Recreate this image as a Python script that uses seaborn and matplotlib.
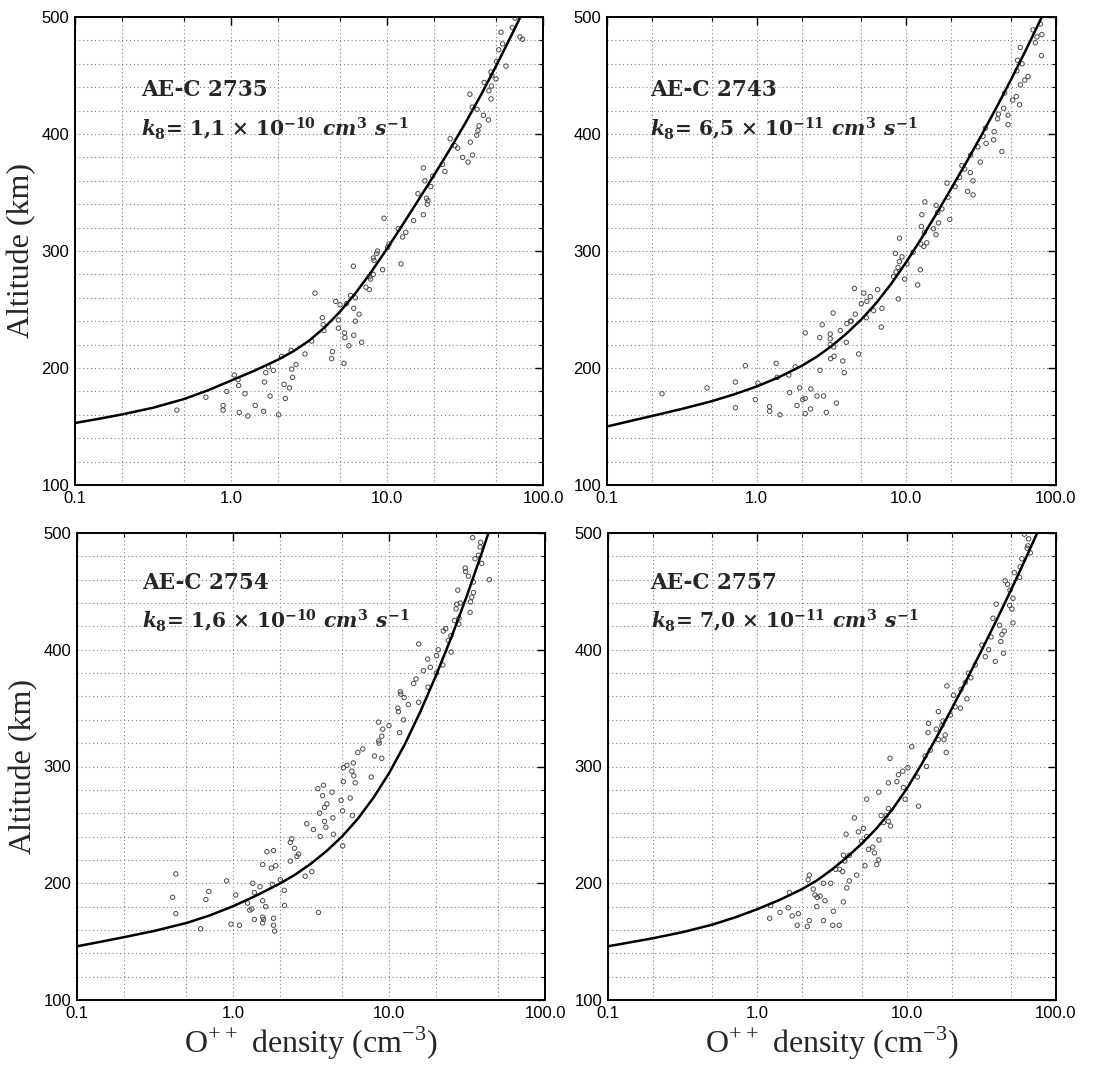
import numpy as np
import pandas as pd
import matplotlib
matplotlib.use("Agg")
import matplotlib.pyplot as plt
import seaborn as sns
from matplotlib.ticker import MultipleLocator, LogLocator, FixedLocator, NullFormatter

# ---------------- data ----------------
orbits = ["2735", "2743", "2754", "2757"]
k8_labels = ["1,1 × 10$^{-10}$", "6,5 × 10$^{-11}$", "1,6 × 10$^{-10}$", "7,0 × 10$^{-11}$"]

dens_2735 = [0.45, 0.69, 0.89, 0.89, 0.94, 1.05, 1.11, 1.12, 1.13, 1.23, 1.28, 1.43, 1.62, 1.64, 1.67, 1.74, 1.78,
             1.87, 2.02, 2.11, 2.19, 2.23, 2.37, 2.43, 2.45, 2.48, 2.61, 2.98, 3.29, 3.45, 3.85, 3.9, 3.94, 4.42,
             4.47, 4.69, 4.88, 4.88, 5.0, 5.3, 5.34, 5.37, 5.5, 5.7, 5.85, 6.09, 6.12, 6.12, 6.27, 6.27, 6.62, 6.88,
             7.33, 7.7, 7.74, 7.85, 8.17, 8.17, 8.26, 8.59, 8.7, 9.38, 9.57, 10.1, 10.3, 11.8, 12.3, 12.6, 13.2,
             14.8, 15.8, 17.1, 17.1, 17.5, 17.9, 18.1, 18.3, 19.1, 19.6, 22.7, 23.5, 25.4, 27.3, 28.4, 30.5, 33.1,
             34.0, 34.2, 35.2, 35.3, 37.6, 37.8, 38.3, 38.9, 41.5, 42.0, 44.7, 45.0, 46.4, 46.8, 46.4, 47.0, 50.0,
             50.3, 52.0, 53.8, 55.1, 57.9, 63.5, 66.1, 71.2, 74.0]
alt_2735 = [164, 175, 164, 168, 180, 194, 190, 185, 162, 178, 159, 168, 163, 188, 196, 201, 176,
            198, 160, 210, 186, 174, 183, 215, 199, 192, 203, 212, 223, 264, 243, 237, 232, 208,
            214, 257, 234, 241, 254, 204, 230, 226, 255, 219, 262, 287, 251, 228, 240, 260, 246, 222,
            269, 267, 278, 276, 294, 280, 292, 298, 300, 284, 328, 303, 306, 319, 289, 312, 316,
            326, 349, 331, 371, 360, 345, 340, 343, 355, 364, 374, 368, 396, 390, 388, 380, 376,
            434, 393, 423, 382, 399, 421, 403, 407, 416, 444, 412, 437, 430, 441, 453, 450, 447,
            462, 472, 487, 477, 458, 491, 499, 483, 481]

dens_2743 = [0.233, 0.466, 0.72, 0.72, 0.84, 0.98, 1.02, 1.22, 1.22, 1.35, 1.37, 1.43, 1.64, 1.66, 1.81, 1.86, 1.94,
             2.03, 2.11, 2.11, 2.11, 2.29, 2.30, 2.53, 2.64, 2.65, 2.74, 2.8, 2.92, 3.1, 3.1, 3.1, 3.12, 3.24,
             3.27, 3.29, 3.41, 3.62, 3.76, 3.85, 3.97, 4.01, 4.23, 4.28, 4.5, 4.56, 4.8, 5.0, 5.19, 5.4, 5.45,
             5.74, 6.05, 6.43, 6.8, 6.87, 8.22, 8.45, 8.52, 8.8, 8.85, 9.0, 9.0, 9.35, 9.75, 10.1, 11.1, 11.9,
             12.4, 12.5, 12.6, 12.7, 13.1, 13.2, 13.3, 13.7, 15.2, 15.8, 15.8, 16.2, 16.4, 17.3, 18.7, 19.0,
             19.5, 21.2, 22.7, 23.5, 24.5, 25.7, 26.8, 26.9, 27.9, 27.9, 30.1, 31.2, 32.5, 33.7, 34.1, 38.3,
             38.6, 40.7, 41.2, 43.5, 44.7, 45.4, 47.8, 47.8, 51.3, 54.3, 54.8, 55.3, 57.1, 57.8, 57.8, 59.3,
             61.8, 65.0, 70.2, 72.8, 74.6, 78.6, 80.5, 80.0]
alt_2743 = [178, 183, 188, 166, 202, 173, 187, 167, 163, 204, 192, 160, 194, 179, 201, 168, 183,
            173, 174, 230, 161, 165, 182, 176, 226, 198, 237, 176, 162, 229, 225, 220, 208, 247,
            218, 210, 170, 232, 206, 196, 222, 238, 240, 240, 268, 246, 212, 255, 264, 243, 257,
            261, 249, 267, 235, 251, 278, 298, 282, 286, 259, 311, 291, 295, 276, 289, 299, 271,
            284, 306, 321, 331, 304, 316, 342, 307, 319, 314, 339, 333, 324, 336, 358, 346,
            327, 355, 363, 373, 370, 351, 367, 382, 360, 348, 389, 376, 398, 405, 392, 395,
            402, 413, 417, 385, 422, 435, 416, 408, 429, 432, 454, 463, 425, 442, 474, 460,
            446, 449, 489, 478, 483, 494, 485, 467]

dens_2754 = [0.41, 0.43, 0.43, 0.62, 0.67, 0.70, 0.91, 0.97, 1.04, 1.10, 1.24, 1.28, 1.32, 1.34, 1.37, 1.37,
             1.49, 1.55, 1.55, 1.55, 1.55, 1.57, 1.62, 1.65, 1.76, 1.79, 1.82, 1.82, 1.82, 1.85, 1.88, 2.01,
             2.13, 2.14, 2.33, 2.33, 2.38, 2.48, 2.57, 2.63, 2.9, 2.97, 3.2, 3.28, 3.5, 3.53, 3.59, 3.62, 3.75,
             3.8, 3.86, 3.86, 3.94, 4.0, 4.31, 4.37, 4.4, 4.93, 5.04, 5.05, 5.1, 5.1, 5.37, 5.64, 5.78, 5.82,
             5.91, 5.95, 6.07, 6.31, 6.79, 7.69, 8.07, 8.56, 8.6, 8.64, 8.99, 9.12, 8.99, 10.0, 11.4, 11.5,
             11.7, 11.8, 11.9, 12.4, 12.5, 13.3, 14.4, 14.9, 15.5, 15.5, 16.6, 17.7, 17.8, 18.4, 20.1, 20.2,
             20.7, 22.1, 22.3, 23.1, 24.0, 24.9, 25.0, 26.3, 26.9, 27.2, 27.6, 28.0, 28.1, 28.6, 30.8, 31.0,
             32.3, 33.1, 33.3, 33.9, 34.4, 34.8, 34.8, 35.6, 37.4, 38.4, 38.7, 39.3, 44.0]
alt_2754 = [188, 208, 174, 161, 186, 193, 202, 165, 190, 164, 183, 177, 178, 200, 192, 169,
            197, 185, 216, 171, 166, 169, 180, 227, 213, 199, 170, 228, 164, 159, 215, 203,
            194, 181, 219, 235, 238, 230, 223, 225, 206, 251, 210, 246, 281, 175, 260, 240, 275,
            284, 253, 265, 248, 268, 278, 256, 242, 271, 262, 232, 299, 287, 301, 273, 296, 258,
            303, 292, 286, 312, 315, 291, 309, 338, 322, 320, 326, 332, 307, 335, 350, 347,
            329, 364, 362, 340, 359, 353, 371, 375, 405, 355, 382, 392, 368, 385, 380, 395,
            400, 387, 416, 418, 408, 412, 398, 425, 435, 439, 451, 422, 427, 440, 470, 467,
            463, 432, 441, 445, 496, 449, 458, 478, 481, 488, 492, 474, 460]

dens_2757 = [1.21, 1.23, 1.42, 1.61, 1.64, 1.71, 1.85, 1.88, 2.16, 2.19, 2.23, 2.23, 2.37, 2.43, 2.5, 2.52, 2.63,
             2.77, 2.77, 2.84, 3.1, 3.2, 3.23, 3.35, 3.53, 3.55, 3.73, 3.77, 3.77, 3.86, 3.93, 3.97, 4.13, 4.13,
             4.47, 4.63, 4.75, 5.0, 5.13, 5.26, 5.4, 5.4, 5.55, 5.93, 6.08, 6.31, 6.47, 6.5, 6.53, 6.75, 7.0,
             7.28, 7.55, 7.55, 7.55, 7.74, 7.8, 8.6, 8.81, 9.42, 9.51, 9.77, 10.2, 10.8, 11.8, 12.0, 13.3, 13.6,
             13.9, 14.0, 14.4, 15.8, 16.3, 16.3, 17.2, 17.5, 17.8, 18.1, 18.4, 18.6, 19.6, 20.6, 21.1, 22.9,
             23.1, 24.7, 25.3, 25.9, 26.9, 28.8, 31.9, 33.6, 35.4, 36.7, 37.8, 39.2, 39.8, 41.9, 42.7, 43.4,
             44.5, 45.0, 45.7, 47.4, 48.9, 49.2, 50.7, 51.5, 51.5, 52.6, 57.1, 57.5, 59.1, 61.4, 64.9, 65.6,
             67.3, 64.1]
alt_2757 = [170, 181, 175, 179, 192, 172, 164, 174, 163, 203, 207, 168, 195, 190, 180, 188, 189,
            168, 200, 185, 200, 164, 176, 212, 164, 212, 210, 224, 184, 219, 242, 196, 224, 202,
            256, 207, 244, 236, 247, 215, 272, 240, 229, 231, 226, 216, 220, 278, 237, 258, 252,
            258, 286, 264, 253, 307, 249, 287, 293, 296, 282, 272, 299, 317, 291, 266, 309, 300,
            329, 337, 314, 332, 347, 323, 335, 339, 323, 327, 312, 369, 344, 361, 351, 350,
            366, 372, 358, 380, 376, 387, 404, 394, 400, 411, 427, 390, 439, 421, 407, 413,
            397, 416, 459, 456, 438, 451, 435, 444, 423, 466, 462, 471, 478, 499, 489, 495,
            483, 487]

# model curves
fit_dens_2735 = [0.1, 0.141, 0.2, 0.316, 0.501, 0.708, 1.0, 1.413, 1.995, 2.512, 3.162, 3.981, 5.012, 6.31,
                 7.943, 10.0, 12.59, 15.85, 19.95, 25.12, 31.62, 39.81, 50.12, 63.1, 71.6]
fit_alt_2735 = [153, 156.5, 160.3, 166.0, 173.5, 180.8, 189.2, 197.7, 207.0, 214.3, 223.3, 234.6, 248.3, 264.3,
                282.3, 301.9, 322.4, 343.3, 364.5, 386.2, 408.8, 432.8, 458.3, 485.0, 500]

fit_dens_2743 = [0.1, 0.141, 0.2, 0.316, 0.501, 0.708, 1.0, 1.413, 1.995, 2.512, 3.162, 3.981, 5.012, 6.31,
                 7.943, 10.0, 12.59, 15.85, 19.95, 25.12, 31.62, 39.81, 50.12, 63.1, 80.4]
fit_alt_2743 = [150, 154.5, 159, 165, 171.6, 177.5, 184.2, 192.2, 201.8, 209.5, 218.7, 229.4, 241.6, 255.7,
                272.1, 290.6, 310.6, 331.6, 353.4, 375.6, 398.5, 422.1, 446.6, 472.1, 500]

fit_dens_2754 = [0.1, 0.141, 0.2, 0.316, 0.501, 0.708, 1.0, 1.413, 1.995, 2.512, 3.162, 3.981, 5.012, 6.31,
                 7.943, 10.0, 12.59, 15.85, 19.95, 25.12, 31.62, 39.81, 43.4]
fit_alt_2754 = [146, 149.8, 153.8, 159.3, 165.9, 172.4, 180.3, 189.5, 199.7, 207.5, 216.8, 227.6, 240.2, 255.2,
                273.2, 294.2, 318.7, 346.7, 377.5, 410.7, 446.5, 485.0, 500]

fit_dens_2757 = [0.1, 0.141, 0.2, 0.316, 0.501, 0.708, 1.0, 1.413, 1.995, 2.512, 3.162, 3.981, 5.012, 6.31,
                 7.943, 10.0, 12.59, 15.85, 19.95, 25.12, 31.62, 39.81, 50.12, 63.1, 74.8]
fit_alt_2757 = [146, 149.4, 152.9, 158.1, 164.6, 170.7, 177.8, 185.8, 195.0, 202.5, 211.8, 222.3, 234.0, 247.3,
                262.5, 280.8, 302.0, 325.0, 349.0, 373.8, 399.0, 424.9, 451.5, 479.0, 500]

x_ticks = [0.1, 1, 10, 100]
x_ticklabels = ["0.1", "1.0", "10.0", "100.0"]
y_ticks = [100, 200, 300, 400, 500]
y_ticklabels = ["100", "200", "300", "400", "500"]

obs = {"2735": (dens_2735, alt_2735), "2743": (dens_2743, alt_2743),
       "2754": (dens_2754, alt_2754), "2757": (dens_2757, alt_2757)}
fits = {"2735": (fit_dens_2735, fit_alt_2735), "2743": (fit_dens_2743, fit_alt_2743),
        "2754": (fit_dens_2754, fit_alt_2754), "2757": (fit_dens_2757, fit_alt_2757)}

# ---------------- style ----------------
sns.set_style("white")
plt.rcParams["font.family"] = ["Liberation Sans", "DejaVu Sans"]
plt.rcParams["mathtext.fontset"] = "custom"
plt.rcParams["mathtext.rm"] = "DejaVu Serif:bold"
plt.rcParams["mathtext.it"] = "DejaVu Serif:italic:bold"
plt.rcParams["mathtext.bf"] = "DejaVu Serif:bold"

W, H = 1107, 1073
fig = plt.figure(figsize=(W / 100, H / 100), dpi=100)

# axes boxes in pixels: left, right, top, bottom
boxes = [(75, 543, 17, 485), (607, 1056, 17, 485), (77, 545, 533, 1000), (608, 1056, 533, 1000)]
text_pos = [(0.142, 0.843, 0.762), (0.095, 0.843, 0.762), (0.139, 0.892, 0.812), (0.095, 0.892, 0.812)]

for i, orb in enumerate(orbits):
    l, r, t, b = boxes[i]
    ax = fig.add_axes([l / W, 1 - b / H, (r - l) / W, (b - t) / H])

    d, a = obs[orb]
    df = pd.DataFrame({"density": d, "altitude": a})
    fd, fa = fits[orb]
    dff = pd.DataFrame({"density": fd, "altitude": fa})

    ax.set_xscale("log")
    sns.scatterplot(data=df, x="density", y="altitude", ax=ax, marker="o", s=10,
                    facecolors="none", edgecolor="#4a4a4a", linewidth=0.7, zorder=3)
    sns.lineplot(data=dff, x="density", y="altitude", ax=ax, sort=False, estimator=None,
                 color="black", linewidth=1.8, zorder=4)

    ax.set_xlim(0.1, 100)
    ax.set_ylim(100, 500)

    ax.xaxis.set_major_locator(FixedLocator(x_ticks))
    ax.set_xticklabels(x_ticklabels)
    ax.xaxis.set_minor_locator(LogLocator(base=10, subs=(2.0, 5.0), numticks=20))
    ax.xaxis.set_minor_formatter(NullFormatter())
    ax.yaxis.set_major_locator(FixedLocator(y_ticks))
    ax.set_yticklabels(y_ticklabels)
    ax.yaxis.set_minor_locator(MultipleLocator(20))

    ax.grid(True, which="both", linestyle=(0, (1, 2.5)), color="#808080", linewidth=0.8)
    ax.tick_params(which="both", direction="in", top=True, right=True, labelsize=12,
                   colors="black", pad=4)
    ax.tick_params(which="major", length=6, width=1.0)
    ax.tick_params(which="minor", length=3, width=0.8)
    for sp in ax.spines.values():
        sp.set_color("black")
        sp.set_linewidth(1.4)

    ax.set_xlabel("")
    ax.set_ylabel("")
    if i in (0, 2):
        ax.set_ylabel("Altitude (km)", fontfamily="Liberation Serif", fontsize=23, labelpad=4)
    if i in (2, 3):
        ax.set_xlabel("O$^{\\mathregular{++}}$ density (cm$^{\\mathregular{−3}}$)",
                      fontfamily="Liberation Serif", fontsize=23, labelpad=3)

    tx, ty1, ty2 = text_pos[i]
    ax.text(tx, ty1, "AE-C " + orb, transform=ax.transAxes, fontfamily="DejaVu Serif",
            fontweight="bold", fontsize=15.5, va="center", ha="left", zorder=5)
    ax.text(tx, ty2, "$k_8$= " + k8_labels[i] + " $cm^3$ $s^{-1}$", transform=ax.transAxes,
            fontfamily="DejaVu Serif", fontweight="bold", fontsize=14.5, va="center", ha="left", zorder=5)

fig.savefig("out.png", dpi=100)
